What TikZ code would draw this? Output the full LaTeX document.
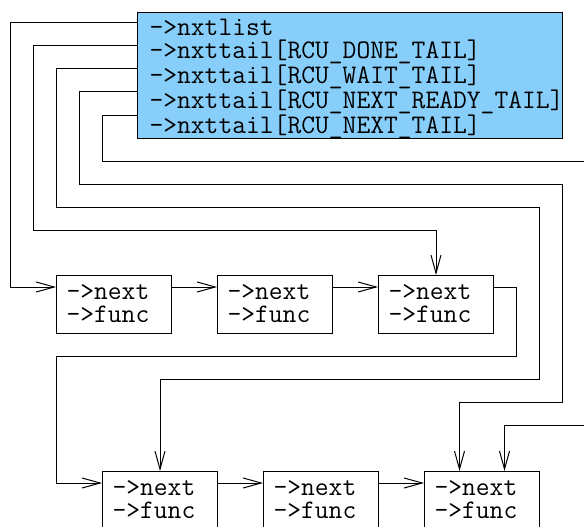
\documentclass[tikz,border=0pt]{standalone}
\usetikzlibrary{arrows.meta}
\definecolor{skyb}{RGB}{135,206,250}
\begin{document}
\begin{tikzpicture}[x=1pt,y=-1pt,
  ttf/.style={font=\ttfamily\fontsize{26.8}{23}\selectfont},
  mainbox/.style={ttf, draw=black, fill=skyb, line width=1pt, align=left,
    text width=401pt, inner xsep=12pt, inner ysep=0pt, text height=23pt, text depth=103pt},
  sbox/.style={ttf, draw=black, fill=white, line width=1pt, align=left,
    text width=95pt, inner xsep=10pt, inner ysep=0pt, text height=24pt, text depth=34pt},
  wire/.style={line width=1pt, black},
  arr/.style={wire, -{Straight Barb[length=18pt,width=10pt,line width=1pt]}}]
\useasboundingbox (0,0) rectangle (584,527);
\clip (0,0) rectangle (584,527);
\node[mainbox, anchor=north west] (M) at (137,12)
  {->nxtlist\\->nxttail[RCU\_DONE\_TAIL]\\->nxttail[RCU\_WAIT\_TAIL]\\->nxttail[RCU\_NEXT\_READY\_TAIL]\\->nxttail[RCU\_NEXT\_TAIL]};
\node[sbox, anchor=north west] (B1) at (56,275) {->next\\->func};
\node[sbox, anchor=north west] (B2) at (217,275) {->next\\->func};
\node[sbox, anchor=north west] (B3) at (378,275) {->next\\->func};
\node[sbox, anchor=north west] (B4) at (102,471) {->next\\->func};
\node[sbox, anchor=north west] (B5) at (263,471) {->next\\->func};
\node[sbox, anchor=north west] (B6) at (424,471) {->next\\->func};
% list pointers
\draw[arr] (M.west |- 0,23) -| (10,287) -- (B1.west |- 0,287);
\draw[arr] (M.west |- 0,46) -| (33,230) -| (B3.north);
\draw[arr] (M.west |- 0,69) -| (56,207) -| (539,379) -| (B4.north);
\draw[arr] (M.west |- 0,92) -| (79,184) -| (562,402) -| ([xshift=-22.5pt]B6.north);
\draw[wire] (M.west |- 0,115) -| (102,161) -- (590,161);
\draw[arr] (590,425) -| ([xshift=22.5pt]B6.north);
% next links
\draw[arr] (B1.east |- 0,287) -- (B2.west |- 0,287);
\draw[arr] (B2.east |- 0,287) -- (B3.west |- 0,287);
\draw[arr] (B3.east |- 0,287) -| (516,356) -| (56,483) -- (B4.west |- 0,483);
\draw[arr] (B4.east |- 0,483) -- (B5.west |- 0,483);
\draw[arr] (B5.east |- 0,483) -- (B6.west |- 0,483);
\end{tikzpicture}
\end{document}
